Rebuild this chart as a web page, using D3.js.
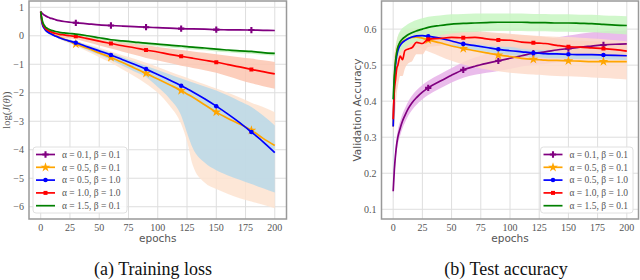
<!DOCTYPE html>
<html><head><meta charset="utf-8">
<script src="https://cdn.jsdelivr.net/npm/d3@7"></script>
<style>body{margin:0;background:#fff}svg{display:block}</style>
</head><body><svg id="c" width="640" height="280"></svg>
<script>
const epochs = [0,1,2,3,4,6,8,10,13,16,20,25,30,40,50,60,70,80,90,100,110,120,125,130,140,150,160,170,180,190,200];
const markEpochs = [30,60,90,120,150,180];
const xTicks = [0,25,50,75,100,125,150,175,200];
const lossTicks = [-6,-5,-4,-3,-2,-1,0,1];
const accTicks = [0.1,0.2,0.3,0.4,0.5,0.6];
const seriesLabels = ["α = 0.1, β = 0.1","α = 0.5, β = 0.1","α = 0.5, β = 1.0","α = 1.0, β = 1.0","α = 1.5, β = 0.1"];

// Training loss (log J)
const lossPurple = [0.85,0.8,0.76,0.73,0.7,0.66,0.62,0.6,0.56,0.53,0.5,0.475,0.455,0.42,0.385,0.36,0.34,0.32,0.30,0.285,0.27,0.25,0.245,0.24,0.23,0.215,0.21,0.205,0.20,0.19,0.185];
const lossPurpleHi = [0.86,0.82,0.78,0.75,0.72,0.68,0.64,0.62,0.58,0.55,0.52,0.495,0.475,0.44,0.405,0.38,0.36,0.34,0.32,0.305,0.29,0.27,0.265,0.26,0.25,0.235,0.23,0.225,0.22,0.21,0.205];
const lossPurpleLo = [0.84,0.78,0.74,0.71,0.68,0.64,0.6,0.58,0.54,0.51,0.48,0.455,0.435,0.4,0.365,0.34,0.32,0.3,0.28,0.265,0.25,0.23,0.225,0.22,0.21,0.195,0.19,0.185,0.18,0.17,0.165];
const lossOrange = [0.85,0.5,0.35,0.28,0.22,0.15,0.1,0.06,0.0,-0.05,-0.12,-0.2,-0.29,-0.44,-0.6,-0.76,-0.94,-1.13,-1.32,-1.52,-1.72,-1.92,-2.04,-2.16,-2.42,-2.68,-2.9,-3.1,-3.32,-3.6,-3.85];
const lossOrangeHi = [0.85,0.52,0.38,0.31,0.25,0.18,0.13,0.09,0.04,-0.01,-0.07,-0.12,-0.18,-0.3,-0.42,-0.55,-0.68,-0.81,-0.95,-1.1,-1.25,-1.4,-1.47,-1.55,-1.7,-1.85,-2.0,-2.17,-2.35,-2.5,-2.68];
const lossOrangeLo = [0.85,0.45,0.3,0.22,0.16,0.09,0.04,0.0,-0.06,-0.12,-0.19,-0.27,-0.36,-0.55,-0.75,-0.95,-1.18,-1.42,-1.68,-2.0,-2.45,-3.1,-3.7,-4.55,-5.15,-5.38,-5.55,-5.7,-5.82,-5.93,-6.05];
const lossBlue = [0.85,0.48,0.33,0.26,0.2,0.13,0.08,0.04,-0.02,-0.07,-0.13,-0.19,-0.245,-0.39,-0.53,-0.675,-0.84,-1.0,-1.17,-1.36,-1.55,-1.75,-1.86,-1.97,-2.21,-2.47,-2.75,-3.05,-3.38,-3.72,-4.1];
const lossBlueHi = [0.85,0.5,0.36,0.29,0.23,0.16,0.11,0.07,0.02,-0.03,-0.09,-0.14,-0.2,-0.33,-0.46,-0.6,-0.75,-0.9,-1.05,-1.2,-1.35,-1.5,-1.57,-1.64,-1.78,-1.92,-2.1,-2.3,-2.5,-2.8,-3.15];
const lossBlueLo = [0.85,0.45,0.3,0.23,0.17,0.1,0.05,0.01,-0.05,-0.1,-0.17,-0.25,-0.32,-0.5,-0.67,-0.85,-1.05,-1.25,-1.45,-1.8,-2.2,-2.8,-3.4,-3.95,-4.45,-4.72,-4.9,-5.05,-5.2,-5.35,-5.5];
const lossRed = [0.85,0.55,0.4,0.32,0.26,0.2,0.15,0.12,0.08,0.05,0.03,0.0,-0.02,-0.1,-0.19,-0.27,-0.35,-0.42,-0.5,-0.57,-0.65,-0.72,-0.755,-0.79,-0.86,-0.93,-1.01,-1.09,-1.18,-1.26,-1.34];
const lossRedHi = [0.85,0.6,0.46,0.38,0.32,0.26,0.21,0.18,0.15,0.12,0.09,0.07,0.05,-0.02,-0.08,-0.14,-0.2,-0.27,-0.33,-0.39,-0.45,-0.5,-0.525,-0.55,-0.6,-0.65,-0.7,-0.75,-0.8,-0.86,-0.92];
const lossRedLo = [0.85,0.5,0.34,0.26,0.19,0.12,0.07,0.03,-0.01,-0.05,-0.08,-0.1,-0.12,-0.23,-0.34,-0.45,-0.56,-0.67,-0.78,-0.87,-0.96,-1.05,-1.09,-1.13,-1.21,-1.3,-1.42,-1.55,-1.67,-1.77,-1.86];
const lossGreen = [0.85,0.6,0.45,0.37,0.31,0.25,0.21,0.18,0.15,0.12,0.10,0.08,0.06,0.0,-0.07,-0.14,-0.18,-0.22,-0.26,-0.29,-0.33,-0.36,-0.38,-0.40,-0.43,-0.47,-0.50,-0.53,-0.55,-0.59,-0.62];
const lossGreenHi = [0.86,0.62,0.47,0.39,0.33,0.27,0.23,0.2,0.17,0.14,0.12,0.1,0.08,0.02,-0.05,-0.12,-0.16,-0.2,-0.24,-0.27,-0.31,-0.34,-0.36,-0.38,-0.41,-0.45,-0.48,-0.51,-0.53,-0.57,-0.6];
const lossGreenLo = [0.84,0.58,0.43,0.35,0.29,0.23,0.19,0.16,0.13,0.1,0.08,0.05,0.02,-0.05,-0.13,-0.2,-0.25,-0.29,-0.33,-0.37,-0.41,-0.44,-0.46,-0.48,-0.51,-0.55,-0.58,-0.61,-0.63,-0.67,-0.7];

// Validation accuracy
const accPurple = [0.15,0.21,0.25,0.28,0.30,0.325,0.345,0.36,0.38,0.395,0.41,0.425,0.437,0.455,0.472,0.487,0.497,0.505,0.512,0.519,0.526,0.533,0.535,0.537,0.542,0.546,0.55,0.553,0.556,0.558,0.559];
const accPurpleHi = [0.17,0.23,0.27,0.30,0.32,0.345,0.365,0.38,0.40,0.415,0.43,0.445,0.457,0.475,0.492,0.509,0.521,0.531,0.540,0.549,0.556,0.565,0.568,0.571,0.577,0.582,0.587,0.591,0.594,0.596,0.597];
const accPurpleLo = [0.13,0.19,0.23,0.26,0.28,0.305,0.325,0.34,0.36,0.375,0.39,0.405,0.417,0.435,0.452,0.465,0.473,0.479,0.484,0.489,0.496,0.501,0.502,0.503,0.507,0.51,0.513,0.515,0.518,0.52,0.521];
const accOrange = [0.33,0.46,0.51,0.535,0.55,0.56,0.565,0.57,0.574,0.577,0.578,0.575,0.57,0.562,0.553,0.546,0.54,0.534,0.528,0.524,0.519,0.516,0.515,0.514,0.513,0.512,0.511,0.51,0.51,0.51,0.51];
const accOrangeHi = [0.4,0.52,0.55,0.57,0.58,0.59,0.595,0.598,0.6,0.602,0.603,0.602,0.6,0.597,0.594,0.59,0.588,0.586,0.585,0.584,0.583,0.582,0.581,0.58,0.579,0.578,0.576,0.574,0.572,0.569,0.566];
const accOrangeLo = [0.25,0.38,0.46,0.5,0.52,0.53,0.535,0.54,0.545,0.548,0.55,0.545,0.538,0.525,0.512,0.502,0.494,0.488,0.483,0.479,0.476,0.474,0.473,0.472,0.47,0.469,0.468,0.466,0.464,0.462,0.46];
const accBlue = [0.33,0.45,0.5,0.525,0.54,0.555,0.563,0.568,0.574,0.578,0.581,0.582,0.58,0.575,0.567,0.559,0.554,0.549,0.544,0.54,0.537,0.534,0.533,0.532,0.531,0.530,0.529,0.529,0.528,0.527,0.526];
const accBlueHi = [0.45,0.52,0.53,0.545,0.555,0.567,0.575,0.58,0.586,0.59,0.593,0.594,0.592,0.587,0.579,0.571,0.566,0.561,0.556,0.552,0.549,0.546,0.545,0.544,0.543,0.542,0.541,0.541,0.540,0.539,0.538];
const accBlueLo = [0.1,0.38,0.47,0.505,0.525,0.543,0.551,0.556,0.562,0.566,0.569,0.57,0.568,0.563,0.555,0.547,0.542,0.537,0.532,0.528,0.525,0.522,0.521,0.52,0.519,0.518,0.517,0.517,0.516,0.515,0.514];
const accRed = [0.35,0.43,0.46,0.49,0.5,0.525,0.515,0.54,0.545,0.548,0.563,0.56,0.572,0.574,0.577,0.576,0.577,0.573,0.57,0.569,0.564,0.562,0.561,0.56,0.555,0.551,0.55,0.548,0.546,0.543,0.539];
const accRedHi = [0.4,0.52,0.55,0.56,0.565,0.575,0.575,0.58,0.585,0.587,0.59,0.59,0.592,0.594,0.595,0.595,0.595,0.592,0.589,0.587,0.584,0.581,0.58,0.578,0.574,0.57,0.568,0.566,0.564,0.561,0.558];
const accRedLo = [0.3,0.34,0.38,0.42,0.44,0.47,0.47,0.49,0.505,0.51,0.53,0.53,0.55,0.554,0.557,0.557,0.558,0.554,0.551,0.55,0.545,0.543,0.542,0.541,0.536,0.532,0.531,0.53,0.528,0.525,0.52];
const accGreen = [0.405,0.47,0.51,0.535,0.55,0.565,0.573,0.578,0.585,0.59,0.595,0.6,0.605,0.61,0.614,0.616,0.617,0.618,0.619,0.619,0.619,0.618,0.618,0.618,0.617,0.617,0.616,0.615,0.613,0.611,0.61];
const accGreenHi = [0.42,0.5,0.54,0.565,0.58,0.595,0.603,0.608,0.615,0.62,0.625,0.63,0.634,0.638,0.641,0.642,0.643,0.643,0.643,0.643,0.643,0.642,0.642,0.642,0.641,0.641,0.64,0.64,0.638,0.637,0.636];
const accGreenLo = [0.39,0.44,0.48,0.505,0.52,0.535,0.543,0.548,0.555,0.56,0.565,0.57,0.576,0.583,0.588,0.591,0.592,0.594,0.595,0.595,0.595,0.594,0.594,0.594,0.593,0.593,0.592,0.591,0.589,0.587,0.585];

const lineColors = ["#800080","#ffa500","#0000ff","#ff0000","#008000"];
const lossBandColors = ["#e3b5e3","#fde3d0","#b9d8e9","#fcc6b0","#c4f2c0"];
const accBandColors = ["#e6b0e8","#fddccb","#b9d8e9","#fcd2bf","#c8f6c2"];
const markers = [d3.symbolCross, d3.symbolStar, d3.symbolCircle, d3.symbolSquare, null];
const markerSizes = [22, 30, 16, 16, 0];

const svg = d3.select("#c");
const serif = "Liberation Serif, DejaVu Serif, serif";
const sans = "DejaVu Sans, sans-serif";

function panel(opts) {
  const x = d3.scaleLinear().domain([-10, 210]).range(opts.xr);
  const y = d3.scaleLinear().domain(opts.yd).range([219, 1]);
  const g = svg.append("g");
  g.selectAll(".vg").data(xTicks).join("line")
    .attr("x1", d => x(d)).attr("x2", d => x(d)).attr("y1", 1).attr("y2", 219)
    .attr("stroke", "#dedede").attr("stroke-width", 1);
  g.selectAll(".hg").data(opts.yTicks).join("line")
    .attr("y1", d => y(d)).attr("y2", d => y(d)).attr("x1", opts.xr[0]).attr("x2", opts.xr[1])
    .attr("stroke", "#dedede").attr("stroke-width", 1);
  const clipId = "clip" + opts.id;
  svg.append("clipPath").attr("id", clipId).append("rect")
    .attr("x", opts.xr[0]).attr("y", 1).attr("width", opts.xr[1]-opts.xr[0]).attr("height", 218);
  const plot = g.append("g").attr("clip-path", `url(#${clipId})`);
  const area = d3.area().x((d,i) => x(epochs[i])).y0(d => y(d[0])).y1(d => y(d[1])).curve(d3.curveMonotoneX);
  opts.series.forEach((s, k) => {
    plot.append("path").datum(s.lo.map((v,i) => [v, s.hi[i]]))
      .attr("d", area).attr("fill", opts.bandColors[k]).attr("opacity", 0.85);
  });
  const line = d3.line().x((d,i) => x(epochs[i])).y(d => y(d)).curve(d3.curveMonotoneX);
  opts.series.forEach((s, k) => {
    plot.append("path").datum(s.v).attr("d", line).attr("fill", "none")
      .attr("stroke", lineColors[k]).attr("stroke-width", 1.7);
    if (markers[k]) {
      const pts = epochs.map((e,i) => [e, s.v[i]]).filter(p => markEpochs.includes(p[0]));
      plot.selectAll(null).data(pts).join("path")
        .attr("d", d3.symbol().type(markers[k]).size(markerSizes[k]))
        .attr("transform", d => `translate(${x(d[0])},${y(d[1])})`)
        .attr("fill", lineColors[k]);
    }
  });
  g.append("rect").attr("x", opts.xr[0]).attr("y", 1).attr("width", opts.xr[1]-opts.xr[0]).attr("height", 218)
    .attr("fill", "none").attr("stroke", "#999").attr("stroke-width", 1.5);
  g.selectAll(".xt").data(xTicks).join("text")
    .attr("x", d => x(d)).attr("y", 231).attr("text-anchor", "middle")
    .attr("font-family", serif).attr("font-size", 10).attr("fill", "#555").text(d => d);
  g.selectAll(".yt").data(opts.yTicks).join("text")
    .attr("x", opts.xr[0] - 5).attr("y", d => y(d) + 3.5).attr("text-anchor", "end")
    .attr("font-family", serif).attr("font-size", 10).attr("fill", "#555").text(opts.yFmt);
  g.append("text").attr("x", (x(0)+x(200))/2).attr("y", 242).attr("text-anchor", "middle")
    .attr("font-family", sans).attr("font-size", 10.5).attr("fill", "#555").text("epochs");
  const yl = g.append("text").attr("transform", `translate(${opts.ylx},${opts.yly}) rotate(-90)`)
    .attr("text-anchor", "middle").attr("font-family", opts.ylFont).attr("font-size", opts.ylSize)
    .attr("fill", "#555");
  opts.ylabel.forEach(part => yl.append("tspan").attr("font-style", part[1] ? "italic" : "normal").text(part[0]));
  g.append("text").attr("x", opts.capX).attr("y", 275).attr("text-anchor", "middle")
    .attr("font-family", "Liberation Serif, Times New Roman, DejaVu Serif, serif").attr("font-size", 18)
    .attr("fill", "#111").text(opts.caption);
  const L = g.append("g").attr("transform", `translate(${opts.legX},147)`);
  L.append("rect").attr("x", 0).attr("y", 0).attr("width", opts.legW).attr("height", 66).attr("rx", 3)
    .attr("fill", "#fff").attr("fill-opacity", 0.85).attr("stroke", "#e0e0e0").attr("stroke-width", 1);
  seriesLabels.forEach((lab, k) => {
    const yy = 7.5 + k * 12.8;
    L.append("line").attr("x1", 3).attr("x2", 22).attr("y1", yy).attr("y2", yy)
      .attr("stroke", lineColors[k]).attr("stroke-width", 1.7);
    if (markers[k]) L.append("path").attr("d", d3.symbol().type(markers[k]).size(markerSizes[k])())
      .attr("transform", `translate(12.5,${yy})`).attr("fill", lineColors[k]);
    L.append("text").attr("x", 29).attr("y", yy + 3.3).attr("font-family", serif)
      .attr("font-size", 9.5).attr("fill", "#555").text(lab);
  });
}

panel({
  id: "a", xr: [29, 286.5], yd: [-6.43, 1.22], yTicks: lossTicks,
  yFmt: d => d < 0 ? "−" + Math.abs(d) : String(d),
  series: [
    {v: lossPurple, hi: lossPurpleHi, lo: lossPurpleLo},
    {v: lossOrange, hi: lossOrangeHi, lo: lossOrangeLo},
    {v: lossBlue, hi: lossBlueHi, lo: lossBlueLo},
    {v: lossRed, hi: lossRedHi, lo: lossRedLo},
    {v: lossGreen, hi: lossGreenHi, lo: lossGreenLo}
  ],
  bandColors: lossBandColors,
  ylabel: [["log(", false], ["J", true], ["(", false], ["θ", true], ["))", false]],
  ylx: 10, yly: 110, ylFont: serif, ylSize: 10.5,
  caption: "(a) Training loss", capX: 153, legX: 33, legW: 94
});

panel({
  id: "b", xr: [381.5, 638.5], yd: [0.073, 0.678], yTicks: accTicks,
  yFmt: d => d.toFixed(1),
  series: [
    {v: accPurple, hi: accPurpleHi, lo: accPurpleLo},
    {v: accOrange, hi: accOrangeHi, lo: accOrangeLo},
    {v: accBlue, hi: accBlueHi, lo: accBlueLo},
    {v: accRed, hi: accRedHi, lo: accRedLo},
    {v: accGreen, hi: accGreenHi, lo: accGreenLo}
  ],
  bandColors: accBandColors,
  ylabel: [["Validation Accuracy", false]],
  ylx: 361, yly: 110, ylFont: sans, ylSize: 10.5,
  caption: "(b) Test accuracy", capX: 506, legX: 540.5, legW: 92.5
});
</script></body></html>
